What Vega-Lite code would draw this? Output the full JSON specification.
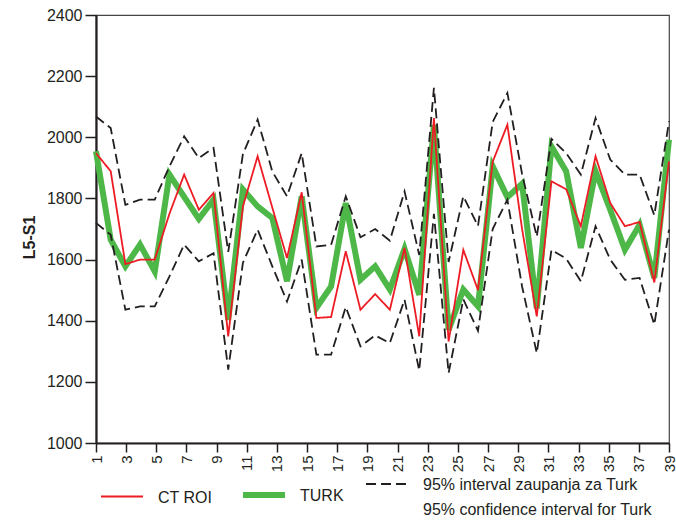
{
  "$schema": "https://vega.github.io/schema/vega-lite/v6.json",
  "width": 573,
  "height": 428,
  "autosize": "none",
  "padding": {"left": 96, "top": 15, "right": 7, "bottom": 84},
  "background": "white",
  "config": {
    "font": "Liberation Sans",
    "view": {"stroke": "#444444", "strokeWidth": 1.2},
    "axis": {
      "domainColor": "#231f20",
      "domainWidth": 2.2,
      "tickColor": "#231f20",
      "tickWidth": 1.5,
      "labelColor": "#231f20",
      "titleColor": "#231f20",
      "grid": false,
      "labelFont": "Liberation Sans",
      "titleFont": "Liberation Sans"
    },
    "legend": {
      "labelFont": "Liberation Sans",
      "labelColor": "#231f20",
      "labelFontSize": 16,
      "labelLimit": 0,
      "padding": 0,
      "symbolSize": 1764
    }
  },
  "datasets": {
    "main": [
      {"n": 1, "turk": 1954, "ct": 1948, "hi": 2068, "lo": 1720},
      {"n": 2, "turk": 1665, "ct": 1889, "hi": 2030, "lo": 1681},
      {"n": 3, "turk": 1578, "ct": 1585, "hi": 1779, "lo": 1436},
      {"n": 4, "turk": 1649, "ct": 1600, "hi": 1796, "lo": 1447},
      {"n": 5, "turk": 1561, "ct": 1600, "hi": 1796, "lo": 1447},
      {"n": 6, "turk": 1878, "ct": 1750, "hi": 1905, "lo": 1545},
      {"n": 7, "turk": 1805, "ct": 1878, "hi": 2003, "lo": 1649},
      {"n": 8, "turk": 1733, "ct": 1763, "hi": 1932, "lo": 1594},
      {"n": 9, "turk": 1796, "ct": 1818, "hi": 1965, "lo": 1621},
      {"n": 10, "turk": 1403, "ct": 1349, "hi": 1625, "lo": 1240},
      {"n": 11, "turk": 1829, "ct": 1774, "hi": 1945, "lo": 1590},
      {"n": 12, "turk": 1774, "ct": 1938, "hi": 2058, "lo": 1698},
      {"n": 13, "turk": 1736, "ct": 1770, "hi": 1888, "lo": 1578},
      {"n": 14, "turk": 1529, "ct": 1605, "hi": 1807, "lo": 1463},
      {"n": 15, "turk": 1807, "ct": 1820, "hi": 1948, "lo": 1600},
      {"n": 16, "turk": 1442, "ct": 1409, "hi": 1643, "lo": 1289},
      {"n": 17, "turk": 1512, "ct": 1412, "hi": 1648, "lo": 1289},
      {"n": 18, "turk": 1785, "ct": 1627, "hi": 1807, "lo": 1445},
      {"n": 19, "turk": 1534, "ct": 1436, "hi": 1673, "lo": 1316},
      {"n": 20, "turk": 1578, "ct": 1487, "hi": 1700, "lo": 1352},
      {"n": 21, "turk": 1502, "ct": 1436, "hi": 1662, "lo": 1327},
      {"n": 22, "turk": 1635, "ct": 1638, "hi": 1823, "lo": 1469},
      {"n": 23, "turk": 1485, "ct": 1349, "hi": 1615, "lo": 1237},
      {"n": 24, "turk": 2040, "ct": 2063, "hi": 2162, "lo": 1750},
      {"n": 25, "turk": 1370, "ct": 1332, "hi": 1592, "lo": 1229},
      {"n": 26, "turk": 1502, "ct": 1632, "hi": 1807, "lo": 1470},
      {"n": 27, "turk": 1447, "ct": 1500, "hi": 1710, "lo": 1367},
      {"n": 28, "turk": 1905, "ct": 1920, "hi": 2050, "lo": 1700},
      {"n": 29, "turk": 1804, "ct": 2041, "hi": 2145, "lo": 1796},
      {"n": 30, "turk": 1848, "ct": 1700, "hi": 1880, "lo": 1512},
      {"n": 31, "turk": 1440, "ct": 1414, "hi": 1675, "lo": 1294},
      {"n": 32, "turk": 1970, "ct": 1856, "hi": 1995, "lo": 1632},
      {"n": 33, "turk": 1889, "ct": 1830, "hi": 1948, "lo": 1603},
      {"n": 34, "turk": 1638, "ct": 1709, "hi": 1878, "lo": 1529},
      {"n": 35, "turk": 1889, "ct": 1938, "hi": 2063, "lo": 1709},
      {"n": 36, "turk": 1763, "ct": 1785, "hi": 1927, "lo": 1600},
      {"n": 37, "turk": 1632, "ct": 1709, "hi": 1878, "lo": 1534},
      {"n": 38, "turk": 1714, "ct": 1723, "hi": 1878, "lo": 1540},
      {"n": 39, "turk": 1540, "ct": 1525, "hi": 1745, "lo": 1387},
      {"n": 40, "turk": 1992, "ct": 1921, "hi": 2052, "lo": 1698}
    ],
    "names": [
      {"key": "ct", "label": "CT ROI"},
      {"key": "turk", "label": "TURK"},
      {"key": "hi", "label": "95% interval zaupanja za Turk"},
      {"key": "lo", "label": "95% interval zaupanja za Turk"}
    ]
  },
  "layer": [
    {
      "data": {"values": [{"k": 1}, {"k": 39}]},
      "mark": {"type": "point", "opacity": 0},
      "encoding": {
        "x": {
          "field": "k",
          "type": "quantitative",
          "scale": {"domain": [1, 39], "nice": false, "zero": false},
          "axis": {
            "orient": "bottom",
            "title": null,
            "values": [1, 3, 5, 7, 9, 11, 13, 15, 17, 19, 21, 23, 25, 27, 29, 31, 33, 35, 37, 39],
            "format": "d",
            "labelAngle": -90,
            "labelFontSize": 15,
            "tickSize": 9,
            "labelPadding": 3,
            "labelFlush": false,
            "labelOverlap": false
          }
        }
      }
    },
    {
      "data": {"name": "main"},
      "transform": [
        {"fold": ["turk", "hi", "lo", "ct"], "as": ["key", "v"]},
        {"lookup": "key", "from": {"data": {"name": "names"}, "key": "key", "fields": ["label"]}}
      ],
      "encoding": {
        "x": {
          "field": "n",
          "type": "quantitative",
          "scale": {"domain": [1, 40], "nice": false, "zero": false},
          "axis": null
        },
        "y": {
          "field": "v",
          "type": "quantitative",
          "scale": {"domain": [1000, 2400], "nice": false, "zero": false},
          "axis": {
            "title": "L5-S1",
            "titleFontSize": 16,
            "titleFontWeight": "bold",
            "titlePadding": 9,
            "titleY": 222,
            "values": [1000, 1200, 1400, 1600, 1800, 2000, 2200, 2400],
            "format": "d",
            "labelFontSize": 16,
            "tickSize": 11,
            "labelPadding": 3,
            "labelFlush": false
          }
        },
        "color": {
          "field": "label",
          "type": "nominal",
          "scale": {
            "domain": ["CT ROI", "TURK", "95% interval zaupanja za Turk"],
            "range": ["#ed1c24", "#4db848", "#231f20"]
          },
          "legend": {
            "title": null,
            "orient": "none",
            "direction": "horizontal",
            "columns": 3,
            "legendX": 4,
            "legendY": 447,
            "symbolType": "stroke",
            "symbolSize": 1764,
            "labelOffset": 14,
            "columnPadding": 18,
            "labelBaseline": "top",
            "labelExpr": "datum.label == '95% interval zaupanja za Turk' ? ['95% interval zaupanja za Turk', '95% confidence interval for Turk'] : datum.label",
            "encoding": {
              "symbols": {
                "strokeWidth": {"value": {"expr": "(datum.value == 'TURK' ? 6 : 2)"}}
              },
              "labels": {
                "dy": {"value": -7},
                "lineHeight": {"value": 25}
              }
            }
          }
        },
        "strokeDash": {
          "field": "label",
          "type": "nominal",
          "scale": {
            "domain": ["CT ROI", "TURK", "95% interval zaupanja za Turk"],
            "range": [[1, 0], [1, 0], [10, 5]]
          }
        }
      },
      "layer": [
        {
          "transform": [{"filter": "datum.key == 'turk'"}],
          "mark": {"type": "line", "strokeWidth": 6}
        },
        {
          "transform": [{"filter": "datum.key == 'hi' || datum.key == 'lo'"}],
          "mark": {"type": "line", "strokeWidth": 1.8, "strokeDash": [10, 5]},
          "encoding": {"detail": {"field": "key"}}
        },
        {
          "transform": [{"filter": "datum.key == 'ct'"}],
          "mark": {"type": "line", "strokeWidth": 1.8}
        }
      ]
    }
  ],
  "resolve": {"scale": {"x": "independent"}}
}
